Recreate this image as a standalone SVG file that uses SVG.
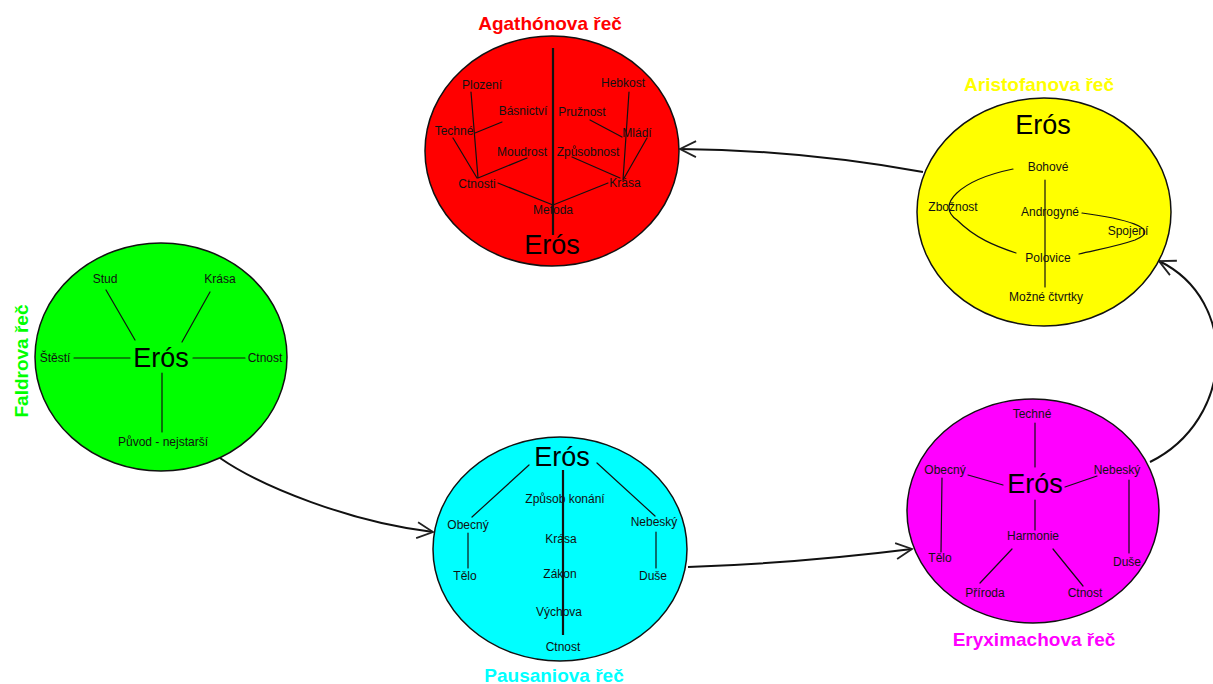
<svg xmlns="http://www.w3.org/2000/svg" width="1213" height="684" viewBox="0 0 1213 684">
  <style>
    .bubble { stroke: #111; stroke-width: 1.5; }
    .lbl { font-family: "Liberation Sans", Arial, sans-serif; font-size: 12px; fill: #111; text-anchor: middle; }
    .eros { font-family: "Liberation Sans", Arial, sans-serif; font-size: 27px; fill: #000; text-anchor: middle; }
    .title { font-family: "Liberation Sans", Arial, sans-serif; font-size: 19px; font-weight: bold; text-anchor: middle; }
    .br { stroke: #111; stroke-width: 1.2; fill: none; stroke-linecap: round; }
    .trunk { stroke: #111; stroke-width: 2.2; fill: none; }
    .conn { stroke: #111; stroke-width: 2; fill: none; }
  </style>
  <defs>
    <marker id="openArrow" markerUnits="userSpaceOnUse" markerWidth="24" markerHeight="24" viewBox="-18 -12 20 24" refX="0" refY="0" orient="auto">
      <path d="M-16,-8 L0,0 L-16,8" fill="none" stroke="#222" stroke-width="1.8"/>
    </marker>
  </defs>
  <rect width="1213" height="684" fill="#fff"/>

  <!-- connectors between the speeches -->
  <g id="connectors">
    <path class="conn" d="M220,458 C262,487 350,522 433,532" marker-end="url(#openArrow)"/>
    <path class="conn" d="M688,567 Q800,563 912,549" marker-end="url(#openArrow)"/>
    <path class="conn" d="M1150,462 C1235,420 1240,300 1159,261" marker-end="url(#openArrow)"/>
    <path class="conn" d="M923,172 Q800,150 680,149" marker-end="url(#openArrow)"/>
  </g>

  <!-- Agathón -->
  <g id="agathon">
    <ellipse class="bubble" cx="552" cy="151" rx="127" ry="115" fill="#ff0000"/>
    <text class="title" x="550" y="30" fill="#ff0000">Agathónova řeč</text>
    <line class="trunk" x1="553" y1="48" x2="553" y2="235"/>
    <path class="br" d="M471,92 L478,178 M453,138 L477,178 M502,122 L475,133 M527,158 L478,178 M498,183 L553,205 M608,183 L553,205 M629,92 L623,180 M647,138 L623,180 M590,120 L622,137 M572,157 L620,178"/>
    <text class="lbl" x="482" y="89">Plození</text>
    <text class="lbl" x="523" y="115">Básnictví</text>
    <text class="lbl" x="582" y="116">Pružnost</text>
    <text class="lbl" x="623" y="87">Hebkost</text>
    <text class="lbl" x="454" y="135">Techné</text>
    <text class="lbl" x="637" y="137">Mládí</text>
    <text class="lbl" x="522" y="156">Moudrost</text>
    <text class="lbl" x="588" y="156">Způsobnost</text>
    <text class="lbl" x="477" y="188">Ctnosti</text>
    <text class="lbl" x="625" y="187">Krása</text>
    <text class="lbl" x="553" y="214">Metoda</text>
    <text class="eros" x="552" y="254">Erós</text>
  </g>

  <!-- Aristofanés -->
  <g id="aristofanes">
    <ellipse class="bubble" cx="1044" cy="212" rx="127" ry="114" fill="#ffff00"/>
    <text class="title" x="1039" y="91" fill="#ffff00">Aristofanova řeč</text>
    <text class="eros" x="1043" y="134">Erós</text>
    <line class="br" x1="1045" y1="180" x2="1045" y2="287"/>
    <path class="br" d="M1013,169 C960,180 935,205 957,220 C975,238 995,246 1016,253"/>
    <path class="br" d="M1082,213 C1120,218 1165,228 1135,240 C1115,247 1095,250 1079,254"/>
    <text class="lbl" x="1048" y="171">Bohové</text>
    <text class="lbl" x="953" y="211">Zbožnost</text>
    <text class="lbl" x="1050" y="216">Androgyné</text>
    <text class="lbl" x="1128" y="235">Spojení</text>
    <text class="lbl" x="1048" y="262">Polovice</text>
    <text class="lbl" x="1046" y="301">Možné čtvrtky</text>
  </g>

  <!-- Faidros -->
  <g id="faidros">
    <ellipse class="bubble" cx="161" cy="357" rx="126" ry="114" fill="#00ff00"/>
    <text class="title" transform="translate(28,361) rotate(-90)" fill="#00ff00">Faldrova řeč</text>
    <path class="br" d="M106,290 L135,340 M210,292 L182,342 M74,358 L130,358 M193,358 L245,358 M162,373 L162,432"/>
    <text class="lbl" x="105" y="283">Stud</text>
    <text class="lbl" x="220" y="283">Krása</text>
    <text class="lbl" x="55" y="362">Štěstí</text>
    <text class="lbl" x="265" y="362">Ctnost</text>
    <text class="lbl" x="163" y="446">Původ - nejstarší</text>
    <text class="eros" x="161" y="367">Erós</text>
  </g>

  <!-- Pausaniás -->
  <g id="pausanias">
    <ellipse class="bubble" cx="560" cy="549" rx="127" ry="112" fill="#00ffff"/>
    <text class="title" x="554" y="682" fill="#00ffff">Pausaniova řeč</text>
    <text class="eros" x="562" y="466">Erós</text>
    <line class="trunk" x1="563" y1="470" x2="563" y2="635"/>
    <path class="br" d="M529,465 L472,517 M597,463 L655,516 M468,533 L468,568 M656,532 L656,568"/>
    <text class="lbl" x="565" y="503">Způsob konání</text>
    <text class="lbl" x="468" y="529">Obecný</text>
    <text class="lbl" x="654" y="526">Nebeský</text>
    <text class="lbl" x="561" y="543">Krása</text>
    <text class="lbl" x="465" y="580">Tělo</text>
    <text class="lbl" x="560" y="578">Zákon</text>
    <text class="lbl" x="653" y="580">Duše</text>
    <text class="lbl" x="559" y="616">Výchova</text>
    <text class="lbl" x="563" y="651">Ctnost</text>
  </g>

  <!-- Eryximachos -->
  <g id="eryximachos">
    <ellipse class="bubble" cx="1033" cy="511" rx="126" ry="112" fill="#ff00ff"/>
    <text class="title" x="1034" y="646" fill="#ff00ff">Eryximachova řeč</text>
    <text class="eros" x="1035" y="493">Erós</text>
    <path class="br" d="M1035,423 L1035,467 M968,475 L1003,485 M1097,476 L1065,487 M1035,500 L1035,530 M1012,549 L980,583 M1053,549 L1083,586 M942,478 L941,552 M1129,480 L1129,553"/>
    <text class="lbl" x="1032" y="418">Techné</text>
    <text class="lbl" x="945" y="474">Obecný</text>
    <text class="lbl" x="1117" y="474">Nebeský</text>
    <text class="lbl" x="1033" y="540">Harmonie</text>
    <text class="lbl" x="940" y="562">Tělo</text>
    <text class="lbl" x="1127" y="566">Duše</text>
    <text class="lbl" x="985" y="597">Příroda</text>
    <text class="lbl" x="1085" y="597">Ctnost</text>
  </g>
</svg>
